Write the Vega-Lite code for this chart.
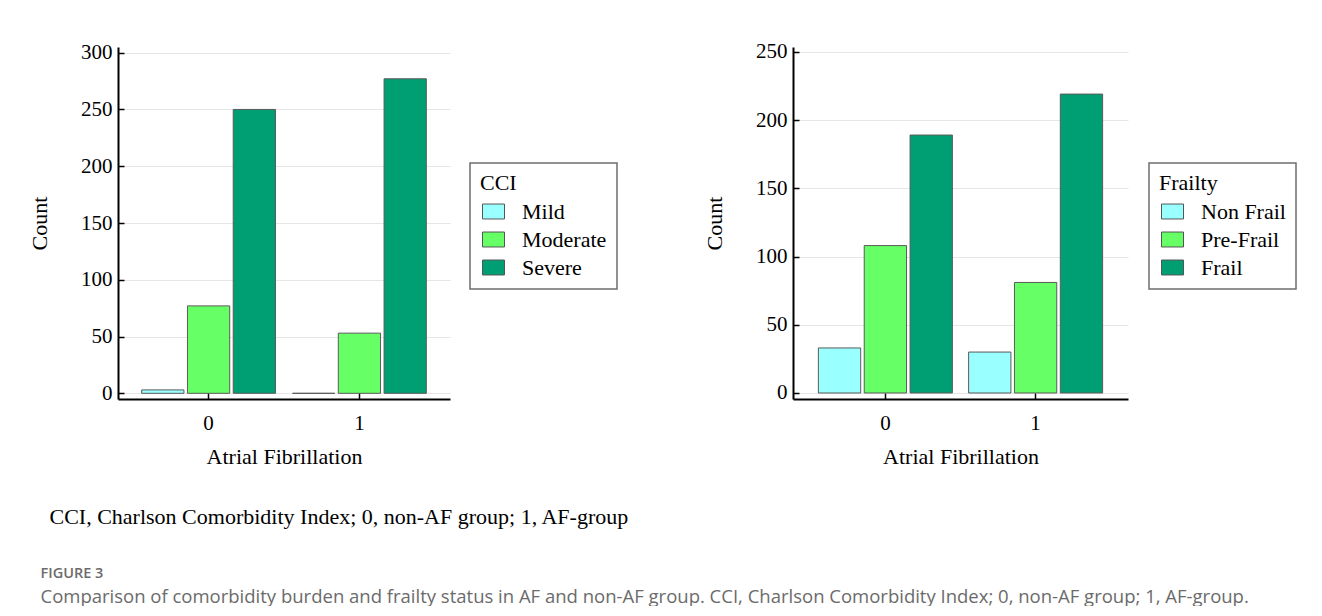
{
  "$schema": "https://vega.github.io/schema/vega-lite/v6.json",
  "padding": {"left": 28, "top": 40, "right": 0, "bottom": 0},
  "background": "white",
  "config": {
    "axis": {
      "domainColor": "#000",
      "domainWidth": 2,
      "tickColor": "#000",
      "tickWidth": 1.5,
      "tickSize": -6,
      "labelFont": "Liberation Serif",
      "labelFontSize": 21,
      "labelColor": "#000",
      "titleFont": "Liberation Serif",
      "titleFontSize": 22,
      "titleFontWeight": "normal",
      "titleColor": "#000",
      "gridColor": "#e6e6e6",
      "gridWidth": 1
    },
    "axisX": {"labelAngle": 0, "labelPadding": 19, "titlePadding": 13, "grid": false},
    "axisY": {"labelPadding": 12, "titlePadding": 29, "grid": true},
    "legend": {
      "orient": "none",
      "legendY": 116,
      "strokeColor": "#6e6e6e",
      "strokeWidth": 1.5,
      "padding": 10,
      "titleFont": "Liberation Serif",
      "titleFontSize": 22,
      "titleFontWeight": "normal",
      "titleColor": "#000",
      "titlePadding": 5,
      "labelFont": "Liberation Serif",
      "labelFontSize": 22,
      "labelColor": "#000",
      "labelOffset": 17,
      "symbolOffset": 2,
      "symbolType": "M-1,-0.68H1V0.68H-1Z",
      "symbolSize": 484,
      "symbolStrokeColor": "#555",
      "symbolStrokeWidth": 1,
      "rowPadding": 5
    }
  },
  "title": {
    "text": "FIGURE 3",
    "subtitle": "Comparison of comorbidity burden and frailty status in AF and non-AF group. CCI, Charlson Comorbidity Index; 0, non-AF group; 1, AF-group.",
    "orient": "bottom",
    "anchor": "start",
    "frame": "bounds",
    "offset": 39,
    "dx": 12,
    "font": "Open Sans",
    "fontSize": 14.5,
    "fontWeight": 600,
    "color": "#6b6b6b",
    "subtitleFont": "Open Sans",
    "subtitleFontSize": 18.5,
    "subtitleColor": "#6b6b6b",
    "subtitlePadding": 6
  },
  "vconcat": [
    {
      "hconcat": [
        {
          "width": 332,
          "height": 352,
          "view": {"stroke": null},
          "data": {"values": [
            {"af": "0", "cci": "Mild", "count": 3},
            {"af": "0", "cci": "Moderate", "count": 77},
            {"af": "0", "cci": "Severe", "count": 250},
            {"af": "1", "cci": "Mild", "count": 0},
            {"af": "1", "cci": "Moderate", "count": 53},
            {"af": "1", "cci": "Severe", "count": 277}
          ]},
          "mark": {"type": "bar", "stroke": "#5a5a5a", "strokeWidth": 1},
          "encoding": {
            "x": {"field": "af", "type": "nominal", "title": "Atrial Fibrillation",
                  "scale": {"paddingInner": 0.113, "paddingOuter": 0.157}},
            "xOffset": {"field": "cci", "type": "nominal", "sort": ["Mild", "Moderate", "Severe"],
                        "scale": {"paddingInner": 0.077, "paddingOuter": 0}},
            "y": {"field": "count", "type": "quantitative", "title": "Count", "stack": null,
                  "scale": {"domain": [-5, 305], "nice": false},
                  "axis": {"values": [0, 50, 100, 150, 200, 250, 300]}},
            "color": {"field": "cci", "type": "nominal", "title": "CCI",
                      "sort": ["Mild", "Moderate", "Severe"],
                      "scale": {"domain": ["Mild", "Moderate", "Severe"], "range": ["#99ffff", "#66ff66", "#009e73"]},
                      "legend": {"legendX": 352, "labelExpr": "datum.label + '\u00a0\u00a0'"}}
          }
        },
        {
          "width": 335,
          "height": 352,
          "view": {"stroke": null},
          "data": {"values": [
            {"af": "0", "frailty": "Non Frail", "count": 33},
            {"af": "0", "frailty": "Pre-Frail", "count": 108},
            {"af": "0", "frailty": "Frail", "count": 189},
            {"af": "1", "frailty": "Non Frail", "count": 30},
            {"af": "1", "frailty": "Pre-Frail", "count": 81},
            {"af": "1", "frailty": "Frail", "count": 219}
          ]},
          "mark": {"type": "bar", "stroke": "#5a5a5a", "strokeWidth": 1},
          "encoding": {
            "x": {"field": "af", "type": "nominal", "title": "Atrial Fibrillation",
                  "scale": {"paddingInner": 0.108, "paddingOuter": 0.169}},
            "xOffset": {"field": "frailty", "type": "nominal", "sort": ["Non Frail", "Pre-Frail", "Frail"],
                        "scale": {"paddingInner": 0.077, "paddingOuter": 0}},
            "y": {"field": "count", "type": "quantitative", "title": "Count", "stack": null,
                  "scale": {"domain": [-4.4, 253.5], "nice": false},
                  "axis": {"values": [0, 50, 100, 150, 200, 250]}},
            "color": {"field": "frailty", "type": "nominal", "title": "Frailty",
                      "sort": ["Non Frail", "Pre-Frail", "Frail"],
                      "scale": {"domain": ["Non Frail", "Pre-Frail", "Frail"], "range": ["#99ffff", "#66ff66", "#009e73"]},
                      "legend": {"legendX": 356, "labelExpr": "datum.label + '\u00a0\u00a0'"}}
          }
        }
      ],
      "spacing": 343,
      "bounds": "flush",
      "resolve": {"scale": {"x": "independent", "y": "independent", "color": "independent", "xOffset": "independent"}, "legend": {"color": "independent"}},
      "title": {
        "text": "CCI, Charlson Comorbidity Index; 0, non-AF group; 1, AF-group",
        "orient": "bottom",
        "anchor": "start",
        "frame": "bounds",
        "offset": 40,
        "dx": 21,
        "font": "Liberation Serif",
        "fontSize": 22,
        "fontWeight": "normal",
        "color": "#000"
      }
    }
  ]
}
